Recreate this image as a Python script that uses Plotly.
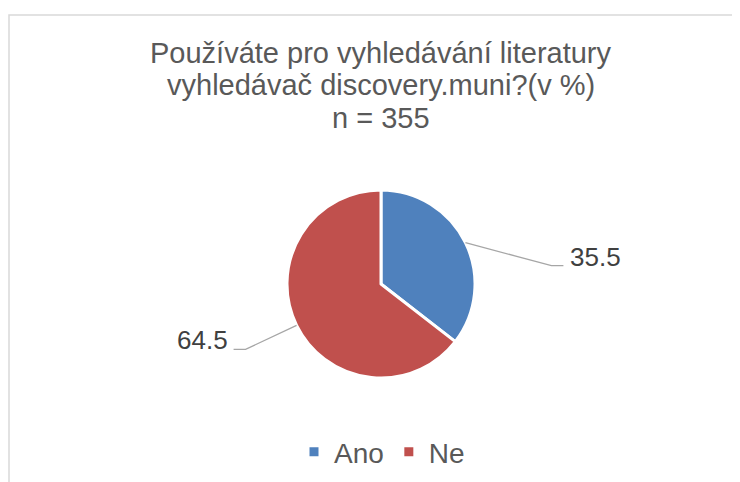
import math
import plotly.graph_objects as go

# ---- data ----
categories = ["Ano", "Ne"]
values = [35.5, 64.5]
value_labels = ["35.5", "64.5"]
colors = ["#4F81BD", "#C0504D"]
title_lines = [
    "Používáte pro vyhledávání literatury",
    "vyhledávač discovery.muni?(v %)",
    "n = 355",
]

W, H = 740, 482
OFF = 8  # page body margin shifts the figure
TEXT = "#595959"
FONT = "Liberation Sans, Arial, sans-serif"

# pie geometry (screen pixels)
cx, cy, r = 381, 284, 94

def px(x):
    return (x - OFF) / W

def py(y):
    return 1 - (y - OFF) / H

fig = go.Figure(
    go.Pie(
        labels=categories,
        values=values,
        sort=False,
        direction="clockwise",
        rotation=0,
        marker=dict(colors=colors, line=dict(color="white", width=3)),
        textinfo="none",
        hoverinfo="label+value",
        domain=dict(x=[px(cx - r), px(cx + r)], y=[py(cy + r), py(cy - r)]),
    )
)

# leader lines + labels computed from slice angles
total = sum(values)
cum = 0.0
annotations = []
shapes = []
for v, lab in zip(values, value_labels):
    mid = (cum + v / 2) / total * 2 * math.pi
    cum += v
    ex = cx + r * math.sin(mid)
    ey = cy - r * math.cos(mid)
    right = math.sin(mid) >= 0
    if right:
        bx, by = ex + 86, ey + 23
        hx = bx + 12
        tx, anchor = hx + 5, "left"
    else:
        bx, by = ex - 51, ey + 24
        hx = bx - 12
        tx, anchor = hx - 4, "right"
    path = f"M {px(ex)},{py(ey)} L {px(bx)},{py(by)} L {px(hx)},{py(by)}"
    shapes.append(dict(type="path", xref="paper", yref="paper", path=path,
                       line=dict(color="#A6A6A6", width=1.3)))
    annotations.append(dict(x=px(tx), y=py(by - 9), xref="paper", yref="paper",
                            text=lab, showarrow=False, xanchor=anchor, yanchor="middle",
                            font=dict(size=26, color="#404040", family=FONT)))

# title lines
for i, t in enumerate(title_lines):
    annotations.append(dict(x=px(381), y=py(53 + i * 32.5), xref="paper", yref="paper",
                            text=t, showarrow=False, xanchor="center", yanchor="middle",
                            font=dict(size=29, color=TEXT, family=FONT)))

# chart border
shapes.append(dict(type="rect", xref="paper", yref="paper",
                   x0=px(9), y0=py(15), x1=px(W + 30), y1=py(H + 30),
                   line=dict(color="#D9D9D9", width=1.5)))

fig.update_layout(
    width=W, height=H,
    margin=dict(l=0, r=0, t=0, b=0),
    paper_bgcolor="white",
    plot_bgcolor="white",
    font=dict(family=FONT, color=TEXT),
    showlegend=True,
    legend=dict(orientation="h", x=px(382), xanchor="center", y=py(452), yanchor="middle",
                font=dict(size=28, color=TEXT, family=FONT), itemwidth=30,
                traceorder="normal"),
    annotations=annotations,
    shapes=shapes,
)

fig.write_html("out.html")
